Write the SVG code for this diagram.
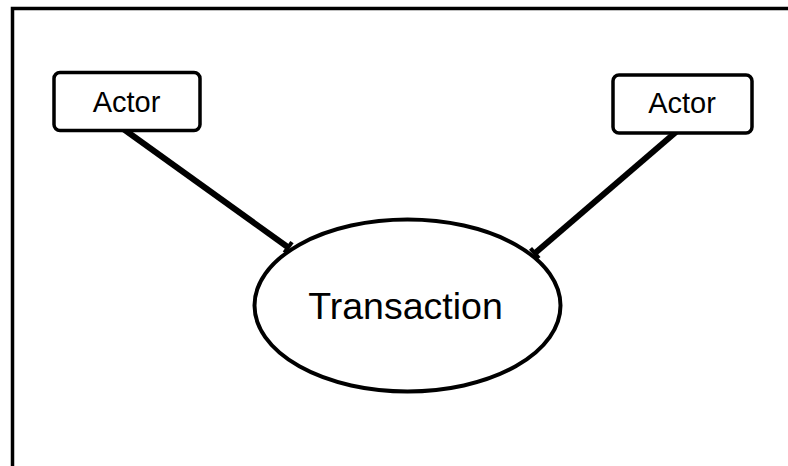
<svg xmlns="http://www.w3.org/2000/svg" width="788" height="466" viewBox="0 0 788 466">
<style>
.box{fill:#fff;stroke:#000;stroke-width:3.5}
.lbl{font-family:"Liberation Sans",Arial,sans-serif;fill:#000;text-anchor:middle}
.conn{stroke:#000;stroke-width:6;fill:none;marker-end:url(#bar)}
</style>
<defs>
<marker id="bar" markerUnits="userSpaceOnUse" markerWidth="16" markerHeight="16" viewBox="-8 -8 16 16" refX="0" refY="0" orient="auto">
<path d="M-3,-6.5 L1,-6.5 L1,6.5 L-3,6.5 Z" fill="#000"/>
</marker>
</defs>
<rect width="788" height="466" fill="#fff"/>
<path id="frame" d="M12.5,466 L12.5,8.5 L788,8.5" fill="none" stroke="#000" stroke-width="3.5"/>
<g id="connectors">
<line class="conn" x1="122" y1="128" x2="289" y2="248"/>
<line class="conn" x1="676" y1="132" x2="534" y2="254"/>
</g>
<g id="actor1">
<rect class="box" x="54" y="72.5" width="146" height="58" rx="6"/>
<text class="lbl" x="126.5" y="112" font-size="29">Actor</text>
</g>
<g id="actor2">
<rect class="box" x="613" y="75" width="139" height="58" rx="6"/>
<text class="lbl" x="682" y="113" font-size="29">Actor</text>
</g>
<g id="transaction">
<ellipse cx="407.5" cy="305.5" rx="153" ry="86" fill="#fff" stroke="#000" stroke-width="4"/>
<text class="lbl" x="405.5" y="318.5" font-size="37.5">Transaction</text>
</g>
</svg>
